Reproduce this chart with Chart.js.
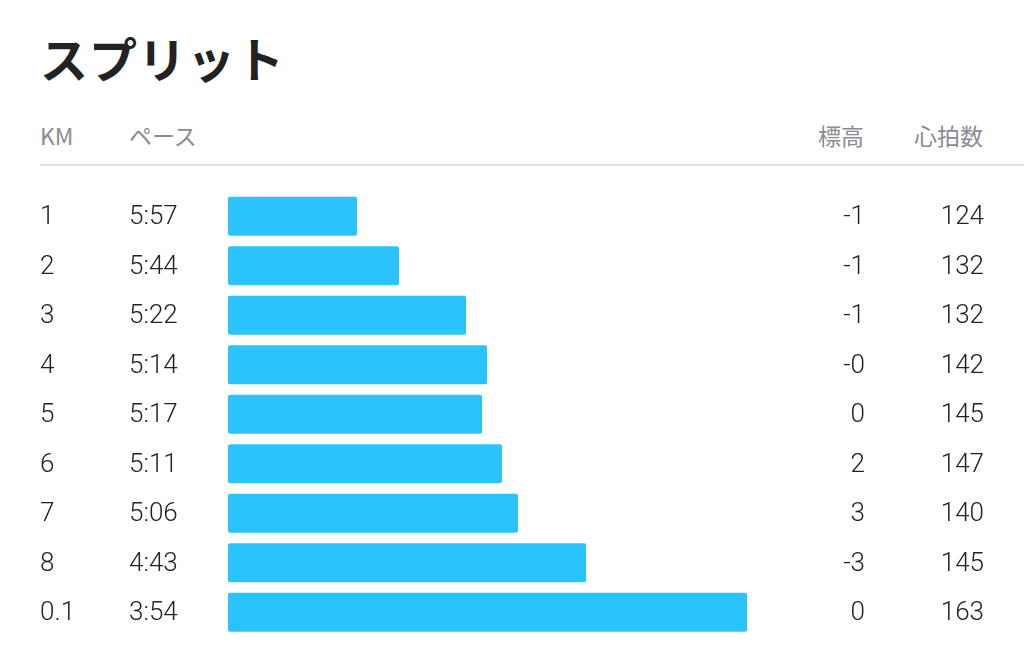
<!DOCTYPE html>
<html lang="ja">
<head>
<meta charset="utf-8">
<script src="https://cdn.jsdelivr.net/npm/chart.js@4"></script>
<style>
  html, body { margin: 0; padding: 0; background: #fff; }
  body { width: 1024px; height: 663px; position: relative; overflow: hidden; }
  h1 {
    position: absolute; left: 40px; top: 22px; margin: 0;
    font: 700 48px "Noto Sans CJK JP", sans-serif; color: #222;
    letter-spacing: 1px;
  }
  .head {
    position: absolute; top: 119px; font: 400 23px "Noto Sans CJK JP", sans-serif;
    color: #8b8b90; line-height: 32px;
  }
  .rule { position: absolute; left: 40px; right: 0; top: 164px; height: 2px; background: #e2e2e4; }
  #chart { position: absolute; left: 0; top: 175px; }
</style>
</head>
<body>
<h1>スプリット</h1>
<div class="head" style="left:40px">KM</div>
<div class="head" style="left:129px">ペース</div>
<div class="head" style="right:160px">標高</div>
<div class="head" style="right:41px">心拍数</div>
<div class="rule"></div>
<canvas id="chart" width="1024" height="488"></canvas>
<script>
const km = ["1", "2", "3", "4", "5", "6", "7", "8", "0.1"];
const pace = ["5:57", "5:44", "5:22", "5:14", "5:17", "5:11", "5:06", "4:43", "3:54"];
const barLen = [129, 171, 238, 259, 254, 274, 290, 358, 519];
const elev = ["-1", "-1", "-1", "-0", "0", "2", "3", "-3", "0"];
const hr = [124, 132, 132, 142, 145, 147, 140, 145, 163];

// row text (km, pace, elevation, heart rate) lined up with the bars
const rowText = {
  id: "rowText",
  afterDatasetsDraw(chart) {
    const c = chart.ctx;
    const y = chart.scales.y;
    c.save();
    c.fillStyle = "#222";
    c.font = "300 26px Roboto, 'Liberation Sans', sans-serif";
    c.textBaseline = "middle";
    km.forEach((k, i) => {
      const py = y.getPixelForValue(i) + 1.5;
      c.textAlign = "left";
      c.fillText(k, 40, py);
      c.fillText(pace[i], 129, py);
      c.textAlign = "right";
      c.fillText(elev[i], 865, py);
      c.fillText(String(hr[i]), 984, py);
    });
    c.restore();
  }
};

new Chart(document.getElementById("chart"), {
  type: "bar",
  data: {
    labels: km,
    datasets: [
      {
        data: barLen,
        backgroundColor: "#2bc3fd",
        borderRadius: 2,
        borderSkipped: false,
        barPercentage: 0.79,
        categoryPercentage: 1,
      },
    ],
  },
  options: {
    indexAxis: "y",
    responsive: false,
    animation: false,
    layout: {
      padding: { left: 228, right: 24, top: 16.5, bottom: 26 },
    },
    scales: {
      x: { display: false, min: 0, max: 772 },
      y: { display: false },
    },
    plugins: {
      legend: { display: false },
      tooltip: { enabled: false },
    },
  },
  plugins: [rowText],
});
</script>
</body>
</html>
